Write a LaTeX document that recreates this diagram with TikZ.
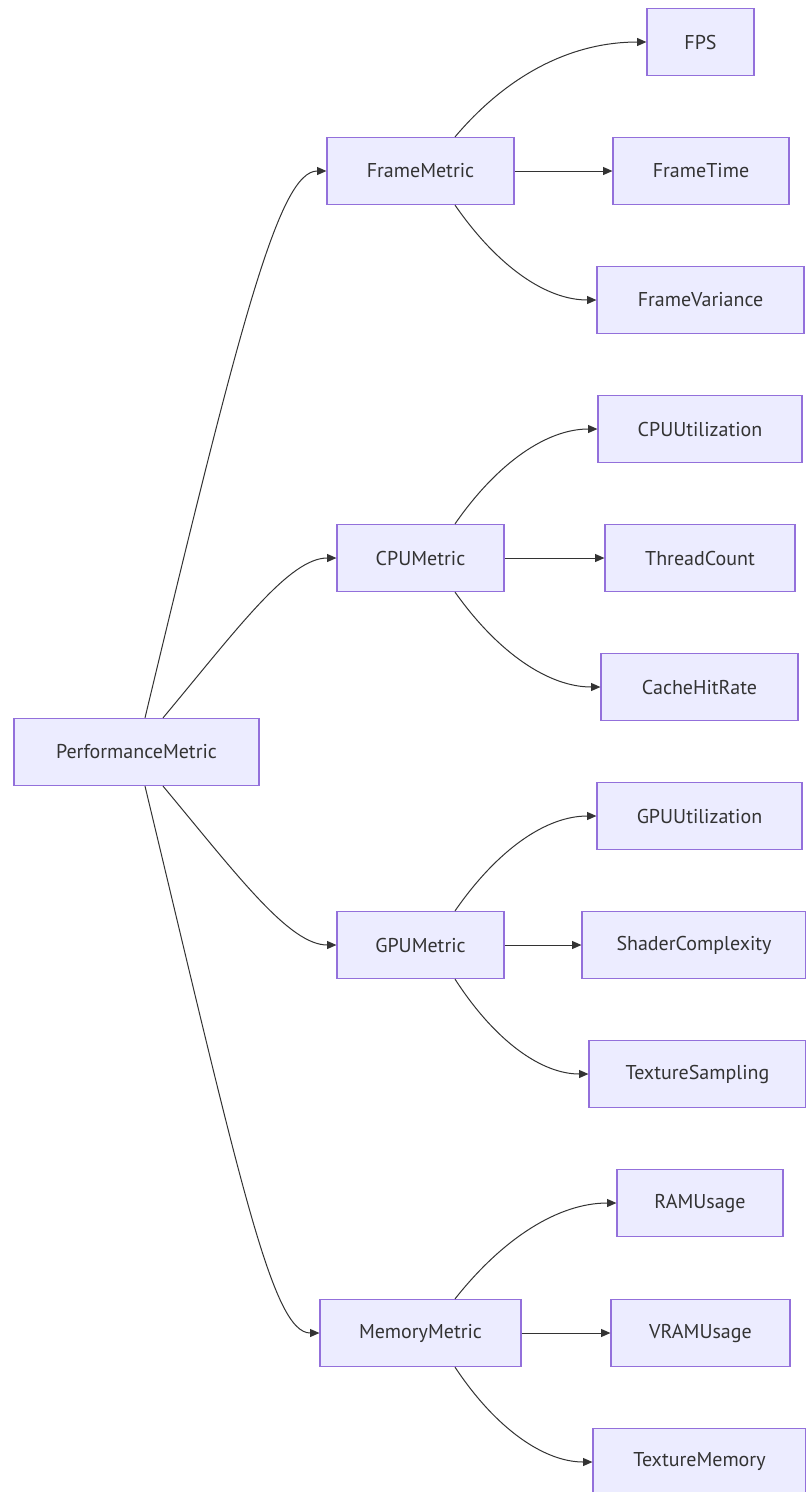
\documentclass[tikz,border=0pt]{standalone}
\usepackage{fontspec}
\setmainfont{PT Sans}
\usetikzlibrary{arrows.meta}
\definecolor{boxfill}{HTML}{ECECFF}
\definecolor{boxline}{HTML}{9370DB}
\definecolor{ink}{HTML}{333333}
\begin{document}
\begin{tikzpicture}[x=0.75pt,y=-0.75pt,
  box/.style={draw=boxline, fill=boxfill, line width=0.9pt, text=ink,
    inner sep=0pt, minimum height=50.25pt, minimum width=#1*0.75pt,
    font=\fontsize{15}{18}\selectfont},
  edge/.style={draw=ink, line width=0.75pt, -{Triangle[length=7pt,width=6pt]}}]
\clip (0,0) rectangle (806,1492);
\fill[white] (0,0) rectangle (806,1492);

% root and the four metric groups
\node[box=245] (root) at (136.5,752) {PerformanceMetric};
\node[box=187] (fm)   at (420.5,171) {FrameMetric};
\node[box=167] (cpu)  at (420.5,558) {CPUMetric};
\node[box=167] (gpu)  at (420.5,945) {GPUMetric};
\node[box=201] (mem)  at (420.5,1333) {MemoryMetric};

% leaves
\node[box=107] (fps)  at (700.5,42)  {FPS};
\node[box=176] (ft)   at (701,171)   {FrameTime};
\node[box=207] (fv)   at (700.5,300) {FrameVariance};
\node[box=204] (cpuu) at (700,429)   {CPUUtilization};
\node[box=190] (tc)   at (700,558)   {ThreadCount};
\node[box=197] (chr)  at (699.5,687) {CacheHitRate};
\node[box=205] (gpuu) at (699.5,816) {GPUUtilization};
\node[box=224] (sc)   at (694,945)   {ShaderComplexity};
\node[box=217] (ts)   at (697.5,1074) {TextureSampling};
\node[box=166] (ram)  at (700,1203)  {RAMUsage};
\node[box=179] (vram) at (700.5,1333) {VRAMUsage};
\node[box=213] (tm)   at (699.5,1462) {TextureMemory};

% root to groups
\draw[edge] ([xshift=6.375pt]root.north) .. controls +(96,-400) and +(-47,0) .. (fm.west);
\draw[edge] ([xshift=19.875pt]root.north) .. controls +(75,-90) and +(-47,0) .. (cpu.west);
\draw[edge] ([xshift=19.875pt]root.south) .. controls +(75,90) and +(-47,0) .. (gpu.west);
\draw[edge] ([xshift=6.375pt]root.south) .. controls +(96,400) and +(-47,0) .. (mem.west);

% groups to leaves
\draw[edge] ([xshift=25.875pt]fm.north) .. controls +(55,-65) and +(-72,0) .. (fps.west);
\draw[edge] (fm.east) -- (ft.west);
\draw[edge] ([xshift=25.875pt]fm.south) .. controls +(43,62) and +(-50,0) .. (fv.west);

\draw[edge] ([xshift=25.875pt]cpu.north) .. controls +(43,-62) and +(-50,0) .. (cpuu.west);
\draw[edge] (cpu.east) -- (tc.west);
\draw[edge] ([xshift=25.875pt]cpu.south) .. controls +(44,62) and +(-51,0) .. (chr.west);

\draw[edge] ([xshift=25.875pt]gpu.north) .. controls +(43,-62) and +(-50,0) .. (gpuu.west);
\draw[edge] (gpu.east) -- (sc.west);
\draw[edge] ([xshift=25.875pt]gpu.south) .. controls +(40,62) and +(-47,0) .. (ts.west);

\draw[edge] ([xshift=25.875pt]mem.north) .. controls +(49,-62) and +(-57,0) .. (ram.west);
\draw[edge] (mem.east) -- (vram.west);
\draw[edge] ([xshift=25.875pt]mem.south) .. controls +(41,62) and +(-48,0) .. (tm.west);
\end{tikzpicture}
\end{document}
